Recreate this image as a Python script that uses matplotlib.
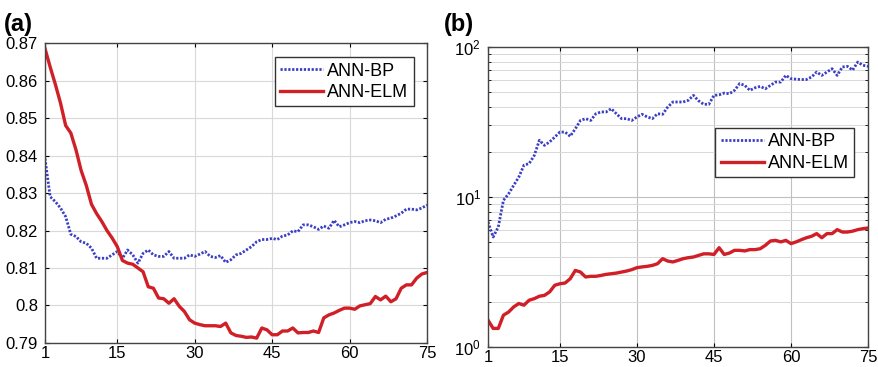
import matplotlib
matplotlib.use("Agg")
import matplotlib.pyplot as plt
import numpy as np

plt.rcParams['font.family'] = ['Liberation Sans', 'DejaVu Sans']

# hidden neuron count 1..75
neurons = np.arange(1, 76)

# (a) accuracy-type measure
bp_a = [0.8392, 0.829, 0.8277, 0.826, 0.8237, 0.819, 0.8184, 0.817, 0.8166, 0.8153,
        0.8126, 0.8126, 0.8126, 0.8135, 0.8144, 0.8126, 0.8148, 0.8135, 0.8113, 0.8139,
        0.8148, 0.8135, 0.8131, 0.8131, 0.8144, 0.8126, 0.8126, 0.8126, 0.8135, 0.8131,
        0.8137, 0.8144, 0.8131, 0.8128, 0.8133, 0.8115, 0.8122, 0.8135, 0.8139, 0.8148,
        0.8157, 0.817, 0.8176, 0.8176, 0.8179, 0.8176, 0.8185, 0.8188, 0.8199, 0.8197,
        0.8215, 0.8215, 0.821, 0.8203, 0.8212, 0.8206, 0.8227, 0.821, 0.8215, 0.8221,
        0.8224, 0.8221, 0.8226, 0.8228, 0.8226, 0.8221, 0.823, 0.8233, 0.8239, 0.8246,
        0.8257, 0.8257, 0.8255, 0.826, 0.8268]
elm_a = [0.8685, 0.8636, 0.859, 0.854, 0.848, 0.846, 0.8415, 0.836, 0.832, 0.827,
         0.8245, 0.8224, 0.820, 0.818, 0.8157, 0.812, 0.8113, 0.811, 0.810, 0.809,
         0.805, 0.8046, 0.802, 0.8018, 0.8006, 0.8018, 0.7998, 0.7984, 0.7962, 0.7953,
         0.7949, 0.7946, 0.7946, 0.7946, 0.7944, 0.7953, 0.7927, 0.792, 0.7918, 0.7915,
         0.7916, 0.7913, 0.794, 0.7935, 0.7922, 0.7922, 0.7932, 0.7932, 0.794, 0.7927,
         0.7928, 0.7928, 0.7932, 0.7928, 0.7967, 0.7975, 0.798, 0.7987, 0.7993, 0.7993,
         0.799, 0.7999, 0.8002, 0.8005, 0.8024, 0.8015, 0.8025, 0.801, 0.8018, 0.8046,
         0.8055, 0.8055, 0.8073, 0.8084, 0.8088]

# (b) training time, log scale
bp_b = [6.81, 5.41, 6.31, 9.5, 10.5, 11.96, 13.6, 16.3, 16.7, 18.9,
        23.9, 22.1, 23.3, 25.1, 27.1, 27.1, 25.4, 28.5, 32.4, 33.3,
        32.4, 35.9, 36.9, 36.9, 38.8, 35.9, 33.3, 33.3, 32.4, 34.2,
        35.6, 34.2, 33.3, 35.9, 35.6, 39.8, 43.0, 43.0, 43.0, 44.1,
        47.6, 43.8, 41.5, 41.5, 47.6, 48.0, 49.3, 48.8, 51.4, 57.0,
        55.5, 51.4, 53.5, 54.6, 52.7, 55.5, 58.4, 58.4, 64.7, 61.5,
        61.0, 60.7, 60.7, 63.1, 68.1, 64.7, 68.1, 71.7, 64.7, 73.6,
        74.3, 70.1, 79.4, 75.6, 74.3]
elm_b = [1.51, 1.33, 1.33, 1.63, 1.71, 1.85, 1.95, 1.90, 2.05, 2.10,
         2.18, 2.21, 2.33, 2.58, 2.64, 2.67, 2.85, 3.24, 3.16, 2.93,
         2.96, 2.96, 3.0, 3.05, 3.08, 3.11, 3.16, 3.21, 3.28, 3.38,
         3.42, 3.45, 3.50, 3.59, 3.88, 3.74, 3.69, 3.78, 3.88, 3.94,
         3.98, 4.08, 4.18, 4.18, 4.14, 4.59, 4.14, 4.23, 4.41, 4.41,
         4.37, 4.46, 4.46, 4.52, 4.76, 5.09, 5.14, 5.02, 5.14, 4.89,
         5.02, 5.19, 5.35, 5.47, 5.70, 5.35, 5.70, 5.70, 6.06, 5.84,
         5.84, 5.92, 6.06, 6.15, 6.21]

xticks = [1, 15, 30, 45, 60, 75]
blue = '#3b3fc4'
red = '#d01f26'
dots = (0, (0.8, 0.6))

fig = plt.figure(figsize=(8.79, 3.67), dpi=100)
ax1 = fig.add_axes([0.0512, 0.0654, 0.4346, 0.8174])
ax2 = fig.add_axes([0.5552, 0.0545, 0.4323, 0.8174])


def style_axes(ax):
    ax.set_xlim(1, 75)
    ax.set_xticks(xticks)
    ax.tick_params(direction='in', top=True, right=True, labelsize=12, length=3, pad=5)
    ax.tick_params(axis='x', pad=2)
    ax.tick_params(which='minor', direction='in', right=True, length=2)
    for s in ax.spines.values():
        s.set_color('#444444')
        s.set_linewidth(1.0)


legend_kw = dict(fontsize=13, fancybox=False, edgecolor='#333333', framealpha=1,
                 handlelength=2.4, borderpad=0.3, labelspacing=0.25, handletextpad=0.2,
                 borderaxespad=0)

# panel (a)
ax1.plot(neurons, bp_a, linestyle=dots, color=blue, lw=2.0, label='ANN-BP')
ax1.plot(neurons, elm_a, '-', color=red, lw=2.4, label='ANN-ELM')
style_axes(ax1)
ax1.set_ylim(0.79, 0.87)
yt = [0.79, 0.80, 0.81, 0.82, 0.83, 0.84, 0.85, 0.86, 0.87]
ax1.set_yticks(yt)
ax1.set_yticklabels(['0.79', '0.8', '0.81', '0.82', '0.83', '0.84', '0.85', '0.86', '0.87'])
ax1.grid(True, color='#d9d9d9', lw=0.8)
ax1.legend(loc='upper right', bbox_to_anchor=(0.965, 0.953), **legend_kw)
fig.text(0.004, 0.915, '(a)', fontsize=17, fontweight='bold')

# panel (b)
ax2.plot(neurons, bp_b, linestyle=dots, color=blue, lw=2.0, label='ANN-BP')
ax2.plot(neurons, elm_b, '-', color=red, lw=2.4, label='ANN-ELM')
style_axes(ax2)
ax2.set_yscale('log')
ax2.set_ylim(1, 100)
ax2.grid(True, which='major', color='#c0c0c0', lw=0.8)
ax2.grid(True, which='minor', axis='y', color='#d8d8d8', lw=0.7)
ax2.legend(loc='upper right', bbox_to_anchor=(0.964, 0.73), **legend_kw)
fig.text(0.505, 0.915, '(b)', fontsize=17, fontweight='bold')

fig.savefig('out.png', dpi=100)
